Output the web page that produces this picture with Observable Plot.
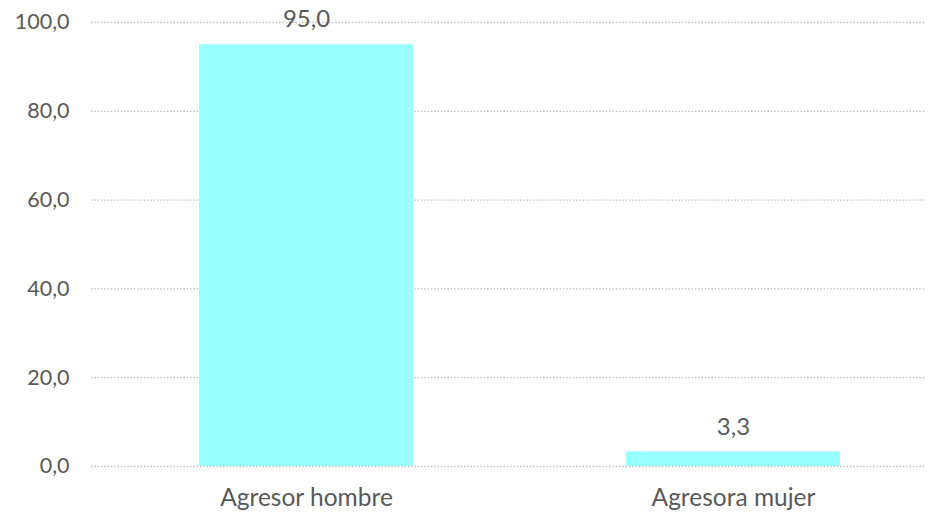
<!DOCTYPE html>
<html>
<head>
<meta charset="utf-8">
<script src="https://cdn.jsdelivr.net/npm/d3@7"></script>
<script src="https://cdn.jsdelivr.net/npm/@observablehq/plot@0.6"></script>
<style>
  html, body { margin: 0; padding: 0; background: #fff; }
  #chart svg { display: block; }
</style>
</head>
<body>
<div id="chart"></div>
<script>
const categories = ["Agresor hombre", "Agresora mujer"];
const values = [95.0, 3.3];
const yTicks = [0, 20, 40, 60, 80, 100];

const data = categories.map((c, i) => ({category: c, value: values[i]}));
const fmt = d => d.toFixed(1).replace(".", ",");

const chart = Plot.plot({
  width: 930,
  height: 516,
  marginLeft: 91,
  marginRight: 4,
  marginTop: 22,
  marginBottom: 50,
  style: {fontFamily: "Lato, 'Open Sans', sans-serif", fontSize: "22px", color: "#595959", background: "#fff"},
  x: {domain: categories, range: [91, 947], paddingInner: 0.5, paddingOuter: 0.252, label: null},
  y: {domain: [0, 100], ticks: yTicks, label: null},
  marks: [
    Plot.ruleY(yTicks, {stroke: "#bfbfbf", strokeWidth: 1.3, strokeDasharray: "1.5,1.8"}),
    Plot.barY(data, {x: "category", y: "value", fill: "#99ffff"}),
    Plot.text(data, {x: "category", y: "value", text: d => fmt(d.value), dy: -25, fill: "#595959", fontSize: 24}),
    Plot.axisY({ticks: yTicks, tickFormat: fmt, tickSize: 0, tickPadding: 22, fontSize: 21.5, fill: "#595959"}),
    Plot.axisX({tickSize: 0, tickPadding: 22, fontSize: 24.5, fill: "#595959"})
  ]
});
document.getElementById("chart").appendChild(chart);
</script>
</body>
</html>
